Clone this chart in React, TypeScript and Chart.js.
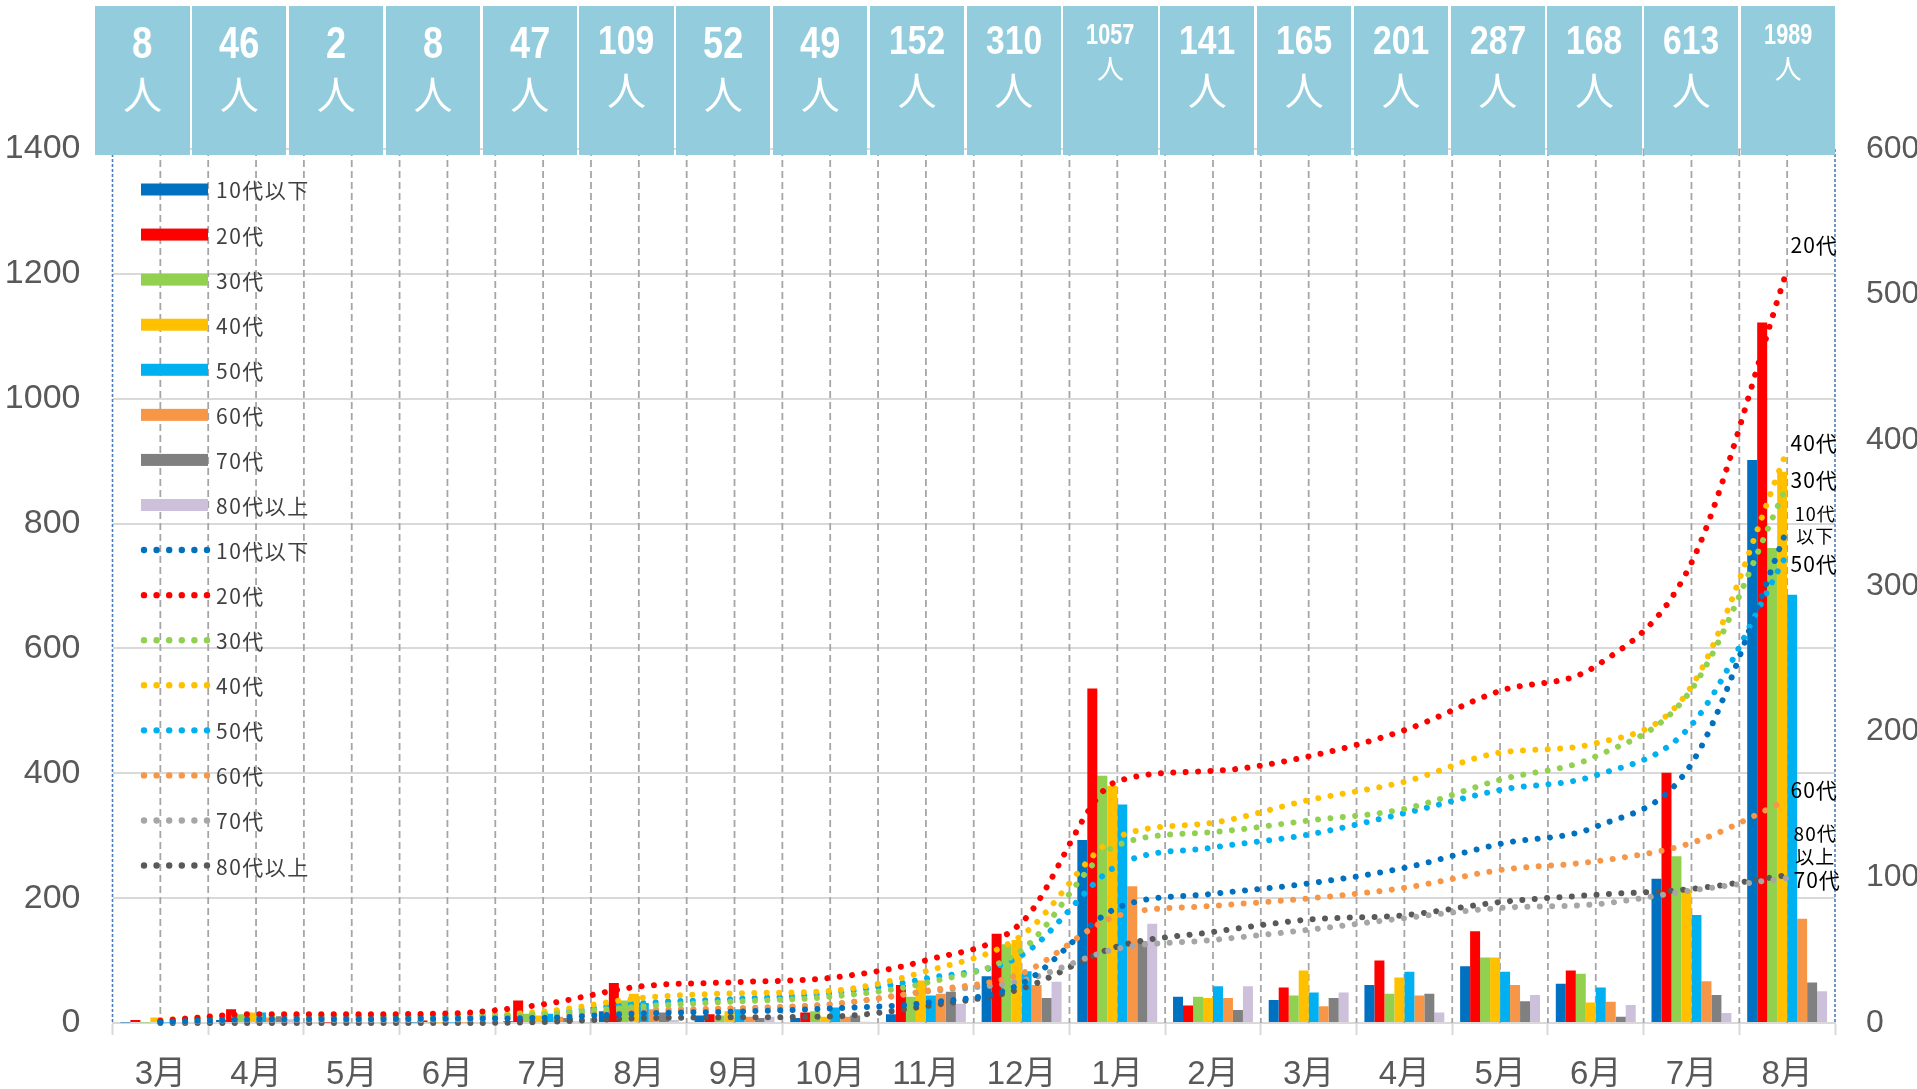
import React, { useEffect, useRef } from "react";
import { Chart, registerables } from "chart.js";

Chart.register(...registerables);

// ---------------- data ----------------
const MONTHS = ["3月", "4月", "5月", "6月", "7月", "8月", "9月", "10月", "11月", "12月", "1月", "2月", "3月", "4月", "5月", "6月", "7月", "8月"];
const TOTALS = ["8", "46", "2", "8", "47", "109", "52", "49", "152", "310", "1057", "141", "165", "201", "287", "168", "613", "1989"];
const TOTAL_UNIT = "人";
const AGE_GROUPS = ["10代以下", "20代", "30代", "40代", "50代", "60代", "70代", "80代以上"];

// monthly bars (left axis)
const BAR_U10 = [1, 5, 0, 1, 3, 19, 12, 8, 14, 75, 293, 42, 37, 61, 91, 63, 231, 902];
const BAR_20 = [5, 22, 1, 4, 36, 64, 14, 17, 61, 143, 536, 28, 57, 100, 147, 84, 401, 1122];
const BAR_30 = [1, 14, 0, 1, 15, 36, 12, 19, 42, 126, 396, 42, 44, 47, 105, 79, 267, 761];
const BAR_40 = [9, 17, 0, 1, 12, 47, 19, 10, 68, 133, 380, 40, 84, 73, 105, 33, 213, 883];
const BAR_50 = [1, 17, 0, 1, 15, 32, 22, 25, 44, 83, 350, 59, 49, 82, 82, 57, 173, 686];
const BAR_60 = [0, 9, 0, 1, 10, 22, 10, 10, 47, 61, 219, 40, 27, 44, 61, 34, 67, 167];
const BAR_70 = [0, 11, 0, 0, 8, 17, 8, 12, 50, 40, 131, 21, 40, 47, 35, 10, 45, 65];
const BAR_80 = [0, 6, 0, 0, 3, 5, 10, 2, 31, 66, 159, 59, 49, 17, 45, 29, 16, 51];

// cumulative lines (right axis)
const LINE_U10 = [0.5, 2.5, 2.5, 3, 3.5, 6.6, 7.8, 10, 13.8, 27, 79, 88.7, 95.8, 106.5, 123, 134.7, 178, 339];
const LINE_20 = [1.5, 6, 6, 6.5, 12.8, 25, 28, 31, 43, 69, 166, 173, 183, 201, 228, 245, 316, 517];
const LINE_30 = [1, 4, 4, 4.5, 6, 11.2, 14.7, 18, 27.5, 50, 122, 131, 139, 147, 167, 183, 229, 369];
const LINE_40 = [2, 5.5, 5.5, 5.5, 7.8, 17, 20.4, 22, 35.5, 60, 127.5, 137.5, 153, 165.6, 185.6, 192, 231, 393];
const LINE_50 = [1, 4, 4, 4.2, 6.6, 13.5, 16.5, 20.4, 30.5, 46.5, 108, 120.5, 129.4, 144, 160, 170, 204.6, 322];
const LINE_60 = [1.5, 5, 5, 5.2, 6, 8.9, 10, 12.8, 22, 34, 73.5, 80.4, 85.5, 92.8, 105, 111, 123.6, 153];
const LINE_70 = [0.5, 2, 2, 2.3, 4.4, 7.8, 10, 12.8, 21.5, 29, 51, 57, 64, 72, 79, 81.5, 91, 99.5];
const LINE_80 = [0, 0, 0, 0, 0.7, 3.2, 3.9, 4.4, 11.5, 23.6, 52.5, 62.5, 71, 74, 83, 88, 92, 101.5];

const END_LABELS = [["10代", "以下"], ["20代"], ["30代"], ["40代"], ["50代"], ["60代"], ["70代"], ["80代", "以上"]];

const LEFT_TICKS = { min: 0, max: 1400, step: 200 };
const RIGHT_TICKS = { min: 0, max: 600, step: 100 };

// ---------------- styles ----------------
const BAR_COLORS = ["#0070C0", "#FF0000", "#92D050", "#FFC000", "#00B0F0", "#F79646", "#808080", "#CCC0DA"];
const LINE_COLORS = ["#0070C0", "#FF0000", "#92D050", "#FFC000", "#00B0F0", "#F79646", "#A6A6A6", "#595959"];
// label offsets from last point: [dx, dy of first line, font size]
const END_LABEL_STYLE: [number, number, number][] = [
  [28, -15, 18], [27, -25, 21], [27, -5, 21], [27, -8, 21], [27, 10, 21], [27, -10, 21], [30, 2, 21], [28, -41, 19],
];
const CJK = "'Noto Sans CJK JP', 'Noto Sans', sans-serif";
const AXIS_FONT = "'Liberation Sans', 'Noto Sans CJK JP', sans-serif";

const BAR_SERIES = [BAR_U10, BAR_20, BAR_30, BAR_40, BAR_50, BAR_60, BAR_70, BAR_80];
const LINE_SERIES = [LINE_U10, LINE_20, LINE_30, LINE_40, LINE_50, LINE_60, LINE_70, LINE_80];

const W = 1917;
const H = 1089;

const vGridPlugin = {
  id: "vGrid",
  beforeDatasetsDraw(chart: any) {
    const { ctx, chartArea: a, scales } = chart;
    const x = scales.x;
    const n = MONTHS.length;
    const w = (a.right - a.left) / n;
    ctx.save();
    ctx.strokeStyle = "#A6A6A6";
    ctx.lineWidth = 1.8;
    ctx.setLineDash([7, 4]);
    for (let i = 0; i < n; i++) {
      const c = x.getPixelForValue(i);
      const xs = [c];
      if (i > 0) xs.push(c - w / 2);
      for (const px of xs) {
        ctx.beginPath();
        ctx.moveTo(px, a.top);
        ctx.lineTo(px, a.bottom);
        ctx.stroke();
      }
    }
    ctx.strokeStyle = "#4A7EBB";
    ctx.lineWidth = 1.6;
    ctx.setLineDash([3, 2]);
    for (const px of [a.left, a.right]) {
      ctx.beginPath();
      ctx.moveTo(px, a.top);
      ctx.lineTo(px, a.bottom);
      ctx.stroke();
    }
    ctx.restore();
  },
};

const legendPlugin = {
  id: "customLegend",
  afterDatasetsDraw(chart: any) {
    const { ctx } = chart;
    const x0 = 141;
    const sw = 67;
    const tx = 216;
    const y0 = 189.5;
    const dy = 45.07;
    ctx.save();
    ctx.font = `21px ${CJK}`;
    (ctx as any).letterSpacing = "1.5px";
    ctx.textBaseline = "middle";
    ctx.textAlign = "left";
    for (let i = 0; i < 16; i++) {
      const y = y0 + i * dy;
      const k = i % 8;
      if (i < 8) {
        ctx.fillStyle = BAR_COLORS[k];
        ctx.fillRect(x0, y - 6, sw, 12);
      } else {
        ctx.fillStyle = LINE_COLORS[k];
        for (let d = 0; d < 6; d++) {
          ctx.beginPath();
          ctx.arc(x0 + 3 + d * 12.6, y, 3.2, 0, Math.PI * 2);
          ctx.fill();
        }
      }
      ctx.fillStyle = "#404040";
      ctx.fillText(AGE_GROUPS[k], tx, y + 1);
    }
    ctx.restore();
  },
};

const endLabelPlugin = {
  id: "endLabels",
  afterDatasetsDraw(chart: any) {
    const { ctx } = chart;
    ctx.save();
    ctx.fillStyle = "#000000";
    ctx.textAlign = "center";
    ctx.textBaseline = "middle";
    (ctx as any).letterSpacing = "1px";
    for (let k = 0; k < 8; k++) {
      const meta = chart.getDatasetMeta(8 + k);
      const pt = meta.data[meta.data.length - 1];
      if (!pt) continue;
      const [dx, dy, fs] = END_LABEL_STYLE[k];
      ctx.font = `${fs}px ${CJK}`;
      END_LABELS[k].forEach((t, j) => {
        ctx.fillText(t, pt.x + dx, pt.y + dy + j * (fs + 4));
      });
    }
    ctx.restore();
  },
};

export default function App() {
  const ref = useRef<HTMLCanvasElement>(null);

  useEffect(() => {
    if (!ref.current) return;
    const barSets = BAR_SERIES.map((d, i) => ({
      type: "bar" as const,
      label: AGE_GROUPS[i],
      data: d,
      backgroundColor: BAR_COLORS[i],
      borderWidth: 0,
      yAxisID: "y",
      order: 2,
      categoryPercentage: 0.835,
      barPercentage: 1.0,
    }));
    const lineSets = LINE_SERIES.map((d, i) => ({
      type: "line" as const,
      label: AGE_GROUPS[i],
      data: d,
      borderColor: LINE_COLORS[i],
      backgroundColor: LINE_COLORS[i],
      borderWidth: 6,
      borderDash: [0.001, 12.4],
      borderCapStyle: "round" as const,
      pointRadius: 0,
      cubicInterpolationMode: "monotone" as const,
      fill: false,
      yAxisID: "y1",
      order: 1,
      clip: false as any,
    }));

    const chart = new Chart(ref.current, {
      data: { labels: MONTHS, datasets: [...barSets, ...lineSets] as any },
      options: {
        animation: false,
        responsive: false,
        devicePixelRatio: 1,
        layout: { padding: { top: 149, left: 0, right: 0, bottom: 0 } },
        plugins: { legend: { display: false }, tooltip: { enabled: false } },
        scales: {
          x: {
            type: "category",
            offset: true,
            grid: {
              display: true,
              offset: true,
              drawOnChartArea: false,
              drawTicks: true,
              tickLength: 12,
              tickColor: "#D9D9D9",
              tickWidth: 2,
            },
            border: { display: true, color: "#D9D9D9", width: 2 },
            ticks: {
              font: { size: 33, family: AXIS_FONT },
              color: "#595959",
              padding: 20,
              maxRotation: 0,
              autoSkip: false,
            },
            afterFit(s: any) {
              s.height = 66;
            },
          },
          y: {
            position: "left",
            min: LEFT_TICKS.min,
            max: LEFT_TICKS.max,
            ticks: {
              stepSize: LEFT_TICKS.step,
              font: { size: 34, family: AXIS_FONT },
              color: "#595959",
              padding: 32,
              callback: (v: any) => String(v),
            },
            grid: { color: "#D9D9D9", lineWidth: 2, drawTicks: false },
            border: { display: false },
            afterFit(s: any) {
              s.width = 112.5;
            },
          },
          y1: {
            position: "right",
            min: RIGHT_TICKS.min,
            max: RIGHT_TICKS.max,
            ticks: {
              stepSize: RIGHT_TICKS.step,
              font: { size: 32, family: AXIS_FONT },
              color: "#595959",
              padding: 31,
              callback: (v: any) => String(v),
            },
            grid: { drawOnChartArea: false, drawTicks: false },
            border: { display: false },
            afterFit(s: any) {
              s.width = 82;
            },
          },
        },
      },
      plugins: [vGridPlugin, legendPlugin, endLabelPlugin],
    } as any);
    return () => chart.destroy();
  }, []);

  const cellW = 96.8;
  const headerLeft = 95.4;

  return (
    <div style={{ position: "fixed", left: 0, top: 0, width: W, height: H, background: "#ffffff", overflow: "hidden" }}>
      <canvas ref={ref} width={W} height={H} style={{ position: "absolute", left: 0, top: 0, width: W, height: H }} />
      {TOTALS.map((t, i) => {
        const small = t.length >= 4;
        const numSize = small ? 30 : t.length === 3 ? 41 : 44;
        const numCy = small ? 34 : t.length === 3 ? 40 : 43;
        const manSize = small ? 27 : 39;
        const manCy = small ? 67 : t.length === 3 ? 88 : 92;
        return (
          <div
            key={i}
            style={{
              position: "absolute",
              left: headerLeft + i * cellW,
              top: 6,
              width: cellW - 2.5,
              height: 149,
              background: "#93CDDD",
            }}
          >
            <div
              style={{
                position: "absolute",
                left: 0,
                width: "100%",
                top: numCy - 6 - numSize / 2,
                height: numSize,
                lineHeight: `${numSize}px`,
                fontSize: numSize,
                fontFamily: "'Liberation Sans', Arial, sans-serif",
                fontWeight: 700,
                color: "#ffffff",
                textAlign: "center",
                transform: `scaleX(${small ? 0.72 : 0.82})`,
              }}
            >
              {t}
            </div>
            <div
              style={{
                position: "absolute",
                left: 0,
                width: "100%",
                top: manCy - 6 - manSize / 2,
                height: manSize,
                lineHeight: `${manSize}px`,
                fontSize: manSize,
                fontFamily: CJK,
                color: "#ffffff",
                textAlign: "center",
              }}
            >
              {TOTAL_UNIT}
            </div>
          </div>
        );
      })}
    </div>
  );
}
